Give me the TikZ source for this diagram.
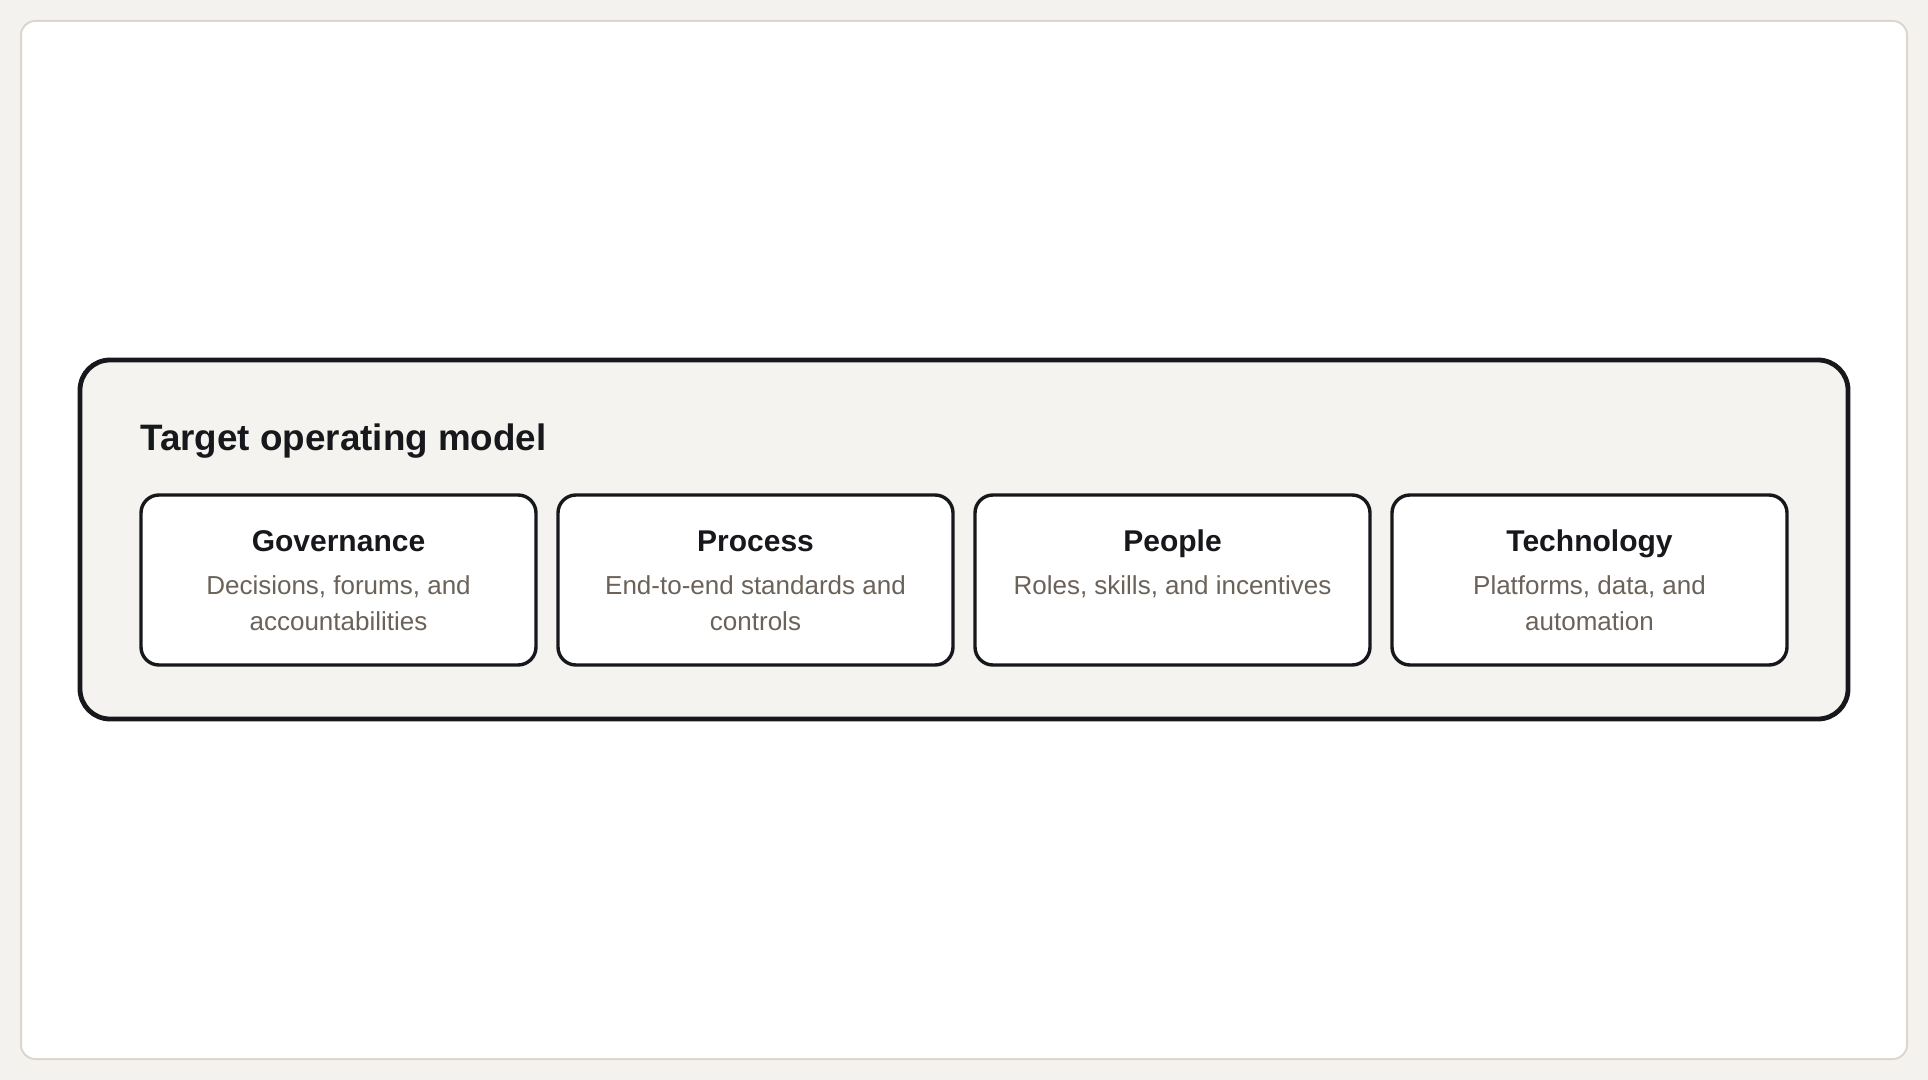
\documentclass[tikz,border=0pt]{standalone}
\usepackage{fontspec}
\setmainfont{Liberation Sans}
\usepackage{tikz}
\usetikzlibrary{positioning}
\definecolor{pagebg}{HTML}{F4F2EE}
\definecolor{cardline}{HTML}{DDD6CC}
\definecolor{panelbg}{HTML}{F4F3EF}
\definecolor{ink}{HTML}{17181C}
\definecolor{muted}{HTML}{6B6259}
\tikzset{
  card/.style={draw=cardline,line width=1pt,fill=white,rounded corners=7pt,minimum width=943pt,minimum height=519pt,inner sep=0pt},
  panel/.style={draw=ink,line width=2.4pt,fill=panelbg,rounded corners=15pt,minimum width=884pt,minimum height=179.5pt,inner sep=0pt},
  pillar/.style={draw=ink,line width=1.7pt,fill=white,rounded corners=9pt,minimum width=197.5pt,minimum height=85pt,inner sep=0pt},
  paneltitle/.style={font=\fontsize{18.4}{22}\selectfont\bfseries,text=ink,anchor=base west,inner sep=0pt},
  pilltitle/.style={font=\fontsize{15}{18}\selectfont\bfseries,text=ink,anchor=base,inner sep=0pt},
  pilltext/.style={font=\fontsize{13}{18}\selectfont,text=muted,align=center,inner sep=0pt}
}
\begin{document}
\begin{tikzpicture}[x=0.5pt,y=-0.5pt]
			\fill[pagebg] (0,0) rectangle (1928,1080);
			\useasboundingbox (0,0) rectangle (1928,1080);
			\node[card] (sheet) at (964,540) {};
			\node[panel] (tom) at (964,539.5) {};
			\node[paneltitle] (tomtitle) at (140,451) {Target operating model};
			% the four pillars
			\node[pillar] (gov) at (338.5,580) {};
			\node[pilltitle] (govtitle) at ([yshift=-29pt]gov.north) {Governance};
			\node[pilltext,below=12.2pt of govtitle.base] (govtext) {Decisions, forums, and\\accountabilities};
			\node[pillar] (proc) at (755.5,580) {};
			\node[pilltitle] (proctitle) at ([yshift=-29pt]proc.north) {Process};
			\node[pilltext,below=12.2pt of proctitle.base] (proctext) {End-to-end standards and\\controls};
			\node[pillar] (ppl) at (1172.5,580) {};
			\node[pilltitle] (ppltitle) at ([yshift=-29pt]ppl.north) {People};
			\node[pilltext,below=12.2pt of ppltitle.base] (ppltext) {Roles, skills, and incentives};
			\node[pillar] (tech) at (1589.5,580) {};
			\node[pilltitle] (techtitle) at ([yshift=-29pt]tech.north) {Technology};
			\node[pilltext,below=12.2pt of techtitle.base] (techtext) {Platforms, data, and\\automation};
\end{tikzpicture}
\end{document}
